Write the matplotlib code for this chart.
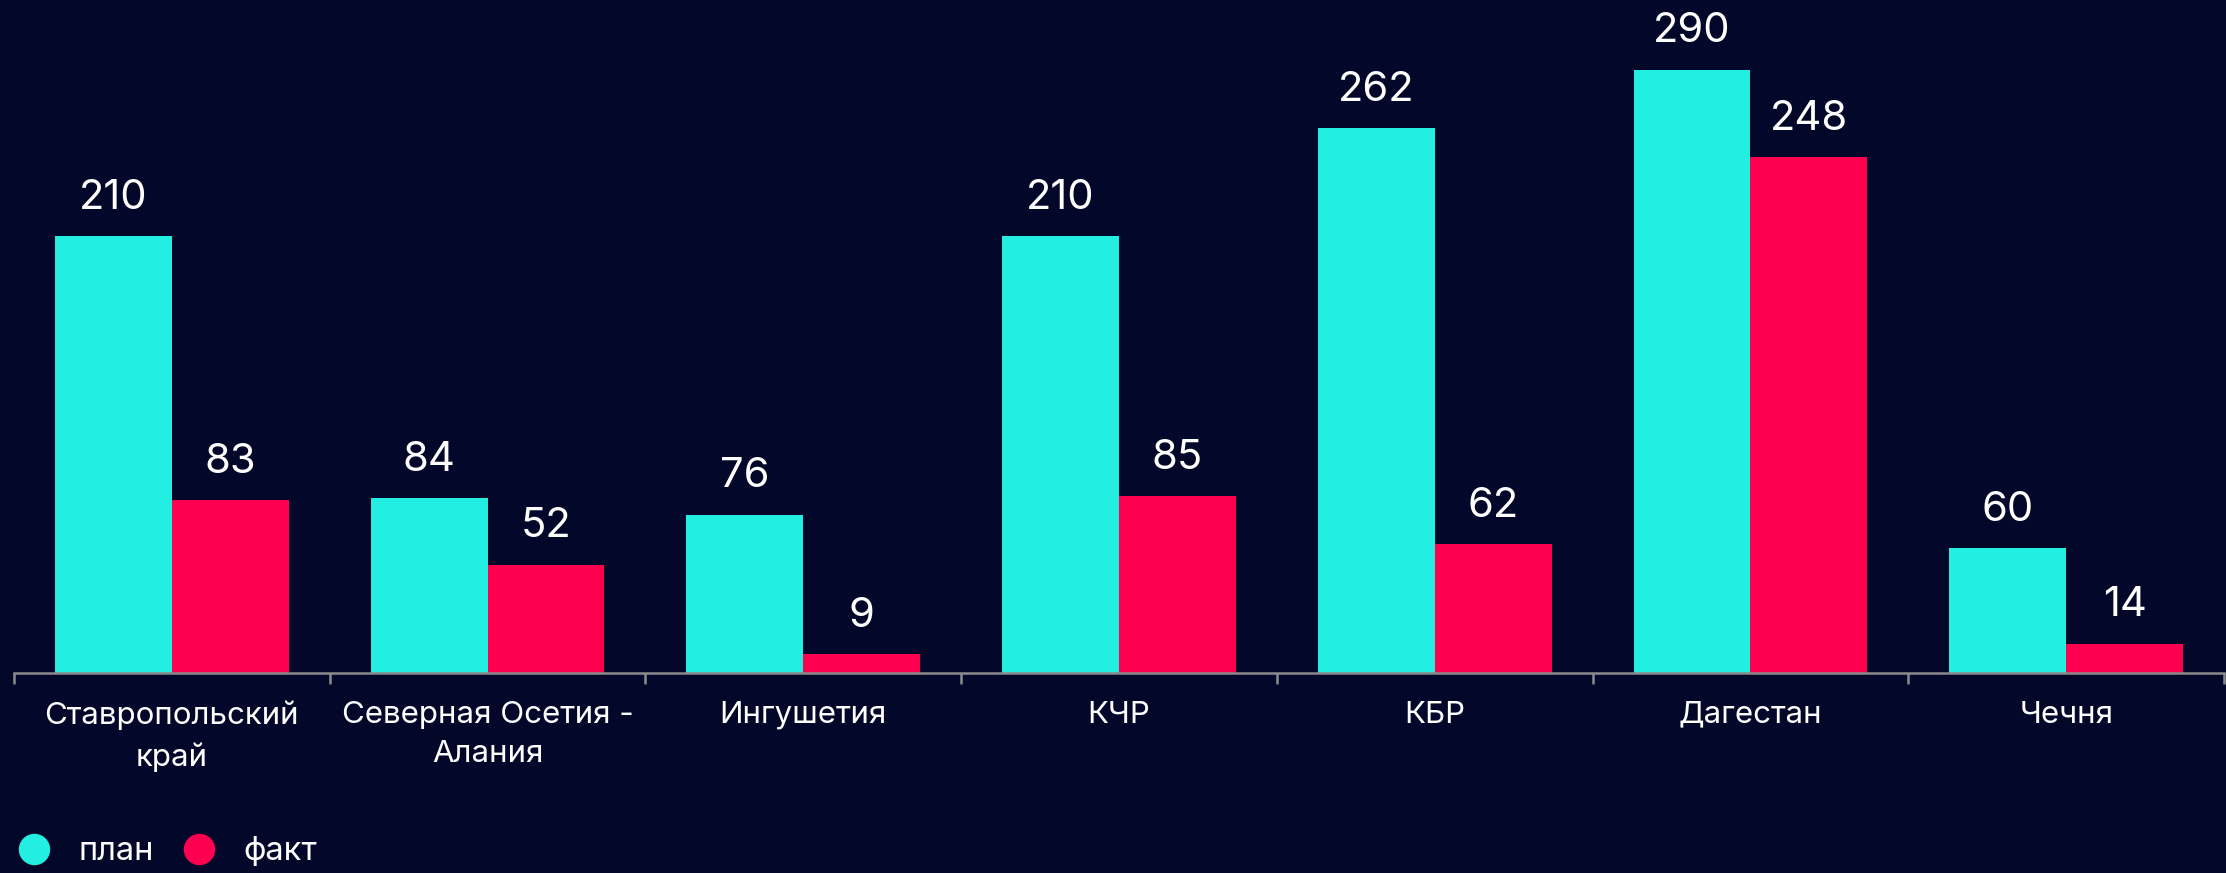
import numpy as np
import matplotlib
matplotlib.use("Agg")
import matplotlib.pyplot as plt
from matplotlib.lines import Line2D

# data
regions = ["Ставропольский\nкрай", "Северная Осетия -\nАлания", "Ингушетия",
           "КЧР", "КБР", "Дагестан", "Чечня"]
plan = [210, 84, 76, 210, 262, 290, 60]
fact = [83, 52, 9, 85, 62, 248, 14]

bg = "#03082A"
cyan = "#22EEE2"
red = "#FF0050"
grey = "#8A8A8A"

plt.rcParams['font.family'] = ['Inter', 'DejaVu Sans']

fig = plt.figure(figsize=(22.26, 8.73), dpi=100)
fig.patch.set_facecolor(bg)
ax = fig.add_axes([14 / 2226, 1 - 673 / 873, 2210 / 2226, 673 / 873])
ax.set_facecolor(bg)

x = np.arange(len(regions))
w = 0.37
b1 = ax.bar(x - w / 2, plan, w, color=cyan, label="план")
b2 = ax.bar(x + w / 2, fact, w, color=red, label="факт")
ax.bar_label(b1, padding=14, color="white", fontsize=30)
ax.bar_label(b2, padding=14, color="white", fontsize=30)

ax.set_xlim(-0.5, len(regions) - 0.5)
ax.set_ylim(0, 323.6)

# spines
for s in ["top", "right", "left"]:
    ax.spines[s].set_visible(False)
ax.spines["bottom"].set_color(grey)
ax.spines["bottom"].set_linewidth(1.8)
ax.set_yticks([])

# labels at group centers, tick marks at group borders
ax.set_xticks(x)
ax.set_xticklabels(regions, color="white", fontsize=22.5)
ax.tick_params(axis="x", which="major", length=0, pad=20)
ax.set_xticks(np.arange(-0.5, len(regions)), minor=True)
ax.tick_params(axis="x", which="minor", length=8, width=1.8, color=grey)
for lbl in ax.get_xticklabels():
    lbl.set_linespacing(1.5)

# legend
handles = [Line2D([], [], marker="o", linestyle="none", markersize=21.6,
                  markerfacecolor=cyan, markeredgecolor=cyan, label="план"),
           Line2D([], [], marker="o", linestyle="none", markersize=21.6,
                  markerfacecolor=red, markeredgecolor=red, label="факт")]
leg = fig.legend(handles=handles, loc="center left", ncol=2, frameon=False,
                 bbox_to_anchor=(18 / 2226, 21 / 873), borderpad=0,
                 borderaxespad=0, handlelength=1.0, handletextpad=0.85,
                 columnspacing=0.9, fontsize=23.5)
for t in leg.get_texts():
    t.set_color("white")

fig.savefig("out.png", dpi=100, facecolor=bg)
